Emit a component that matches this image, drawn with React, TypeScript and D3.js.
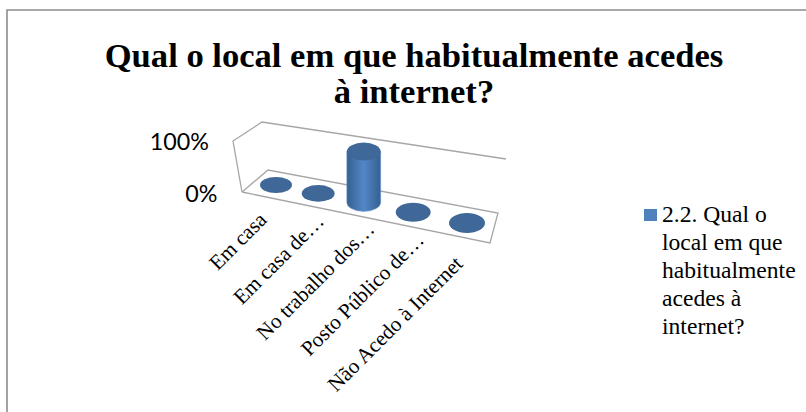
import React from "react";
import * as d3 from "d3";

const categories = ["Em casa", "Em casa de…", "No trabalho dos…", "Posto Público de…", "Não Acedo à Internet"];
const values = [0, 0, 100, 0, 0];
const yTicks = [0, 100];
const titleLines = ["Qual o local em que habitualmente acedes", "à internet?"];
const legendLines = ["2.2. Qual o", "local em que", "habitualmente", "acedes à", "internet?"];

// layout of the oblique 3-D view
const labelShift = [-8, 7, 12, 12, -3];
const labelDrop = [36, 29, 28, 29, 42];
const serif = "'Liberation Serif', 'Times New Roman', serif";

export default function App() {
  const t = d3.scalePoint<string>().domain(categories).range([0, 1]);
  // perspective: bars further to the right are closer to the viewer
  const persp = (v: number) => (0.85 * v) / (1 - 0.15 * v);
  const xS = d3.scaleLinear().domain([0, 1]).range([276, 467]);
  const yS = d3.scaleLinear().domain([0, 1]).range([185, 223]);
  const rxS = d3.scaleLinear().domain([0, 1]).range([16, 18]);
  const ryS = d3.scaleLinear().domain([0, 1]).range([8, 10]);
  const h = d3.scaleLinear().domain([0, 100]).range([0, 51]);

  const line = d3.line();
  const floor = line([[242, 192], [268, 170], [498, 213], [490, 243], [242, 192]])!;
  const wall = line([[242, 192], [233, 141], [262, 122], [506, 159]])!;
  const frame = line([[7, 412], [7, 10], [806, 10]])!;
  const axisY = d3.scaleLinear().domain([0, 100]).range([195, 143]);
  const axisX = d3.scaleLinear().domain([0, 100]).range([217.5, 209]);

  return (
    <svg width={806} height={412} style={{ position: "absolute", left: 0, top: 0, background: "#fff" }}>
      <defs>
        <linearGradient id="cyl" x1="0" x2="1" y1="0" y2="0">
          <stop offset="0" stopColor="#34608f" />
          <stop offset="0.5" stopColor="#5487c8" />
          <stop offset="1" stopColor="#34608f" />
        </linearGradient>
      </defs>
      <path d={frame} fill="none" stroke="#8c8c8c" strokeWidth={1.6} />
      {titleLines.map((s, i) => (
        <text key={s} x={414} y={67 + i * 36} textAnchor="middle" fontFamily={serif} fontWeight="bold" fontSize={34.6} fill="#000">
          {s}
        </text>
      ))}
      <path d={wall} fill="none" stroke="#a6a6a6" strokeWidth={1.3} />
      <path d={floor} fill="#fff" stroke="#a6a6a6" strokeWidth={1.3} />
      {yTicks.map((v) => (
        <text key={v} x={axisX(v)} y={axisY(v) + 7} textAnchor="end" fontFamily="Lato, 'Open Sans', sans-serif" fontSize={23.3} fill="#000">
          {v}%
        </text>
      ))}
      {categories.map((c, i) => {
        const u = persp(t(c)!);
        const x = xS(u);
        const y = yS(u);
        const rx = rxS(u);
        const ry = ryS(u);
        const H = h(values[i]);
        return (
          <g key={c}>
            {H > 0 && (
              <path
                d={`M${x - rx},${y - H}L${x - rx},${y}A${rx},${ry} 0 0 0 ${x + rx},${y}L${x + rx},${y - H}Z`}
                fill="url(#cyl)"
                stroke="#6f9bd3"
                strokeWidth={0.6}
              />
            )}
            <ellipse cx={x} cy={y - H} rx={rx} ry={ry} fill="#3f6797" />
          </g>
        );
      })}
      {categories.map((c, i) => {
        const u = persp(t(c)!);
        const x = xS(u) + labelShift[i];
        const y = yS(u) + labelDrop[i];
        return (
          <text key={c} transform={`translate(${x},${y}) rotate(-45)`} textAnchor="end" fontFamily={serif} fontSize={21.2} fill="#000">
            {c}
          </text>
        );
      })}
      <rect x={644} y={209} width={13} height={12} fill="#4f81bd" />
      {legendLines.map((s, i) => (
        <text key={s} x={662} y={222 + i * 28} fontFamily={serif} fontSize={23.6} fill="#000">
          {s}
        </text>
      ))}
    </svg>
  );
}
